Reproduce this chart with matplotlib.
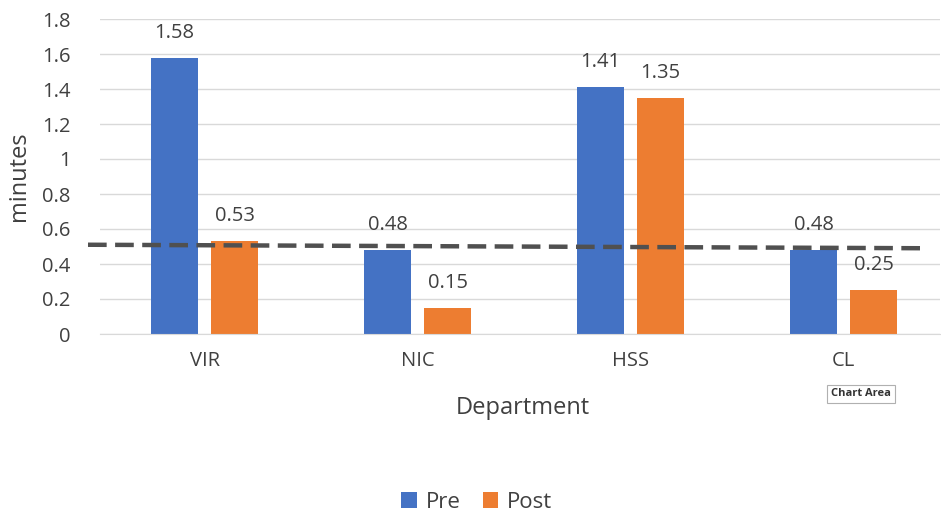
import matplotlib
matplotlib.use("Agg")
import matplotlib.pyplot as plt
import numpy as np

departments = ["VIR", "NIC", "HSS", "CL"]
pre = [1.58, 0.48, 1.41, 0.48]
post = [0.53, 0.15, 1.35, 0.25]
target_line = [0.51, 0.49]  # dashed reference level, left end / right end
y_ticks = [0, 0.2, 0.4, 0.6, 0.8, 1.0, 1.2, 1.4, 1.6, 1.8]
y_tick_labels = ["0", "0.2", "0.4", "0.6", "0.8", "1", "1.2", "1.4", "1.6", "1.8"]

plt.rcParams["font.family"] = ["Open Sans", "DejaVu Sans"]
text_color = "#404040"

W, H = 941, 516
X0, STEP = 204.5, 213.0  # pixel centre of first group, spacing between groups
fig = plt.figure(figsize=(W / 100, H / 100), dpi=100)
ax = fig.add_axes([100 / W, (H - 334) / H, 840 / W, 315 / H])

x = np.arange(len(departments))
bw = 0.225
off = 0.141
ax.bar(x - off, pre, bw, color="#4472C4", label="Pre", zorder=2)
ax.bar(x + off, post, bw, color="#ED7D31", label="Post", zorder=2)

for xi, v in zip(x - off, pre):
    ax.text(xi, v + 0.085, f"{v:.2f}", ha="center", va="bottom", fontsize=14.5, color=text_color)
for xi, v in zip(x + off, post):
    ax.text(xi, v + 0.085, f"{v:.2f}", ha="center", va="bottom", fontsize=14.5, color=text_color)

ax.plot([(88 - X0) / STEP, (925 - X0) / STEP], target_line, color="#505050", lw=3.2,
        dashes=(4.2, 1.9), zorder=4, clip_on=False)

ax.set_xlim((100 - X0) / STEP, (940 - X0) / STEP)
ax.set_ylim(0, 1.8)
ax.set_yticks(y_ticks)
ax.set_yticklabels(y_tick_labels)
ax.set_xticks(x)
ax.set_xticklabels(departments)
ax.tick_params(axis="both", length=0, labelsize=14.5, colors=text_color)
ax.tick_params(axis="y", pad=21)
ax.tick_params(axis="x", pad=12)
ax.grid(axis="y", color="#d9d9d9", lw=1, zorder=0)
for s in ["top", "right", "left"]:
    ax.spines[s].set_visible(False)
ax.spines["bottom"].set_color("#d9d9d9")

ax.set_ylabel("minutes", fontsize=17, color=text_color)
ax.yaxis.set_label_coords((31 - 100) / 840, (334 - 176) / 315)
fig.text(523 / W, (H - 408) / H, "Department", ha="center", va="center",
         fontsize=17, color=text_color)

fig.legend(loc="center", bbox_to_anchor=(477 / W, (H - 502) / H), ncol=2,
           frameon=False, fontsize=16, handlelength=0.7, handleheight=0.7,
           columnspacing=1.0, handletextpad=0.4, labelcolor=text_color)

fig.text(861 / W, (H - 394) / H, "Chart Area", ha="center", va="center",
         fontsize=8, fontweight="bold", color="#333333",
         bbox=dict(boxstyle="square,pad=0.35", fc="white", ec="#b0b0b0", lw=0.8))

fig.savefig("out.png", dpi=100)
